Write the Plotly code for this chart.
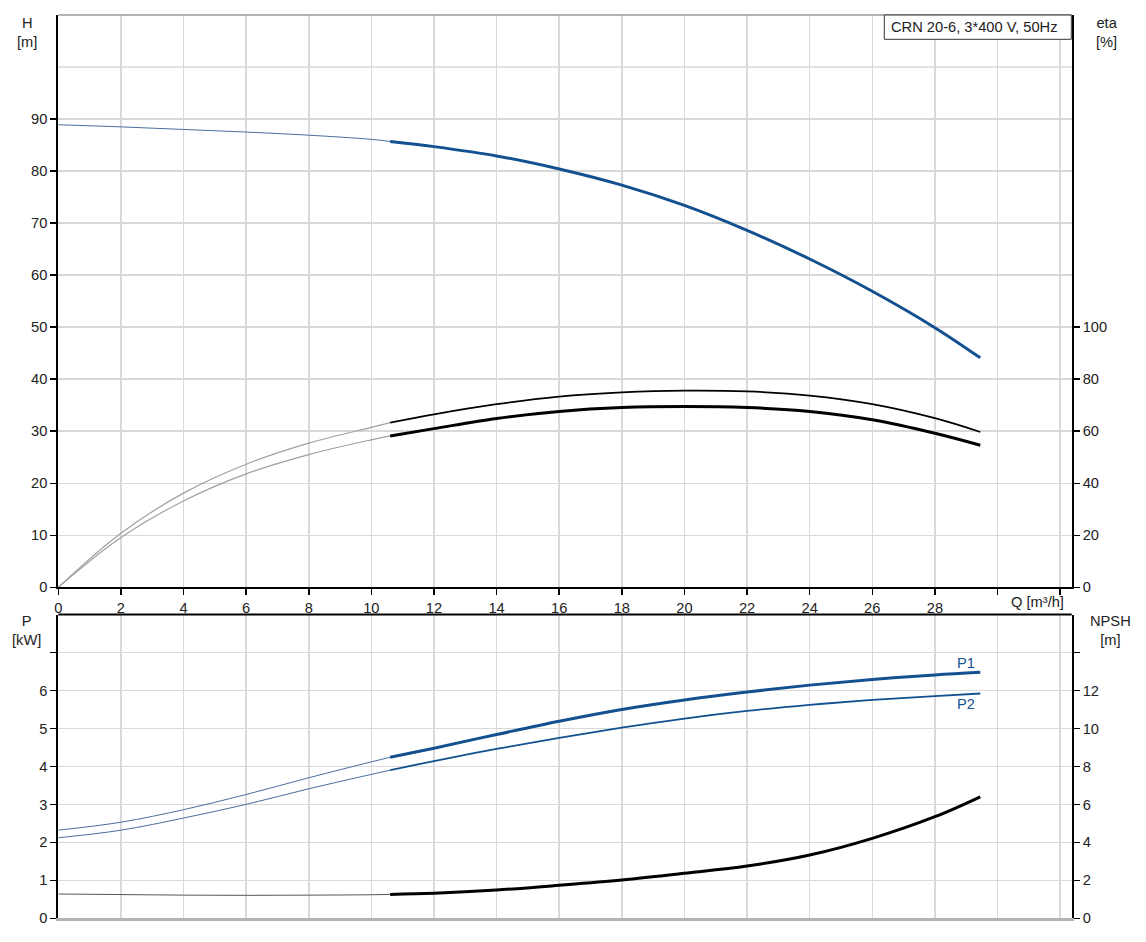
import plotly.graph_objects as go

# ---------------- data ----------------
q_thin = [0, 2, 4, 6, 8, 10, 10.6]
q_main = [10.6, 12, 14, 16, 18, 20, 22, 24, 26, 28, 29.45]

h_thin = [88.9, 88.5, 88.0, 87.5, 86.9, 86.1, 85.7]
h_main = [85.7, 84.7, 82.9, 80.4, 77.3, 73.4, 68.6, 63.1, 56.9, 49.9, 44.1]

eta_a_thin = [0, 20.8, 36.2, 47.3, 55.4, 61.5, 63.3]
eta_a_main = [63.3, 66.5, 70.4, 73.3, 74.9, 75.6, 75.3, 73.7, 70.4, 65.0, 59.7]
eta_b_thin = [0, 19.1, 33.2, 43.6, 51.0, 56.7, 58.2]
eta_b_main = [58.2, 61.0, 64.9, 67.6, 69.1, 69.5, 69.1, 67.6, 64.4, 59.2, 54.6]

p1_thin = [2.32, 2.53, 2.86, 3.26, 3.70, 4.12, 4.24]
p1_main = [4.24, 4.48, 4.84, 5.19, 5.50, 5.75, 5.96, 6.14, 6.29, 6.41, 6.48]
p2_thin = [2.12, 2.32, 2.64, 3.00, 3.41, 3.79, 3.90]
p2_main = [3.90, 4.14, 4.46, 4.75, 5.02, 5.26, 5.46, 5.62, 5.75, 5.85, 5.92]

npsh_thin = [1.28, 1.25, 1.22, 1.21, 1.22, 1.24, 1.26]
npsh_main = [1.26, 1.32, 1.49, 1.74, 2.02, 2.37, 2.75, 3.33, 4.21, 5.35, 6.40]

q_tickvals = [0, 2, 4, 6, 8, 10, 12, 14, 16, 18, 20, 22, 24, 26, 28, 30, 32]
q_ticktext = ["0", "2", "4", "6", "8", "10", "12", "14", "16", "18", "20",
              "22", "24", "26", "28", "", ""]
h_tickvals = [0, 10, 20, 30, 40, 50, 60, 70, 80, 90]
eta_tickvals = [0, 20, 40, 60, 80, 100]
p_tickvals = [0, 1, 2, 3, 4, 5, 6, 7]
p_ticktext = ["0", "1", "2", "3", "4", "5", "6", ""]
npsh_tickvals = [0, 2, 4, 6, 8, 10, 12, 14]
npsh_ticktext = ["0", "2", "4", "6", "8", "10", "12", ""]

title_text = "CRN 20-6, 3*400 V, 50Hz"

# ---------------- style ----------------
W, H = 1146, 942
BLUE = "#13508f"
BLUE_THIN = "#4a6e9a"
GRID = "#d9d9d9"
TXT = "#222222"
FS = 14.67
FONT = dict(family="Liberation Sans, Arial, sans-serif", size=FS, color=TXT)


def px(xp):
    return xp / W


def py(yp):
    return 1 - yp / H


x_dom = [px(58.3), px(1071.7)]
top_dom = [py(587.3), py(15)]
bot_dom = [py(918.3), py(614.5)]
Q_RANGE = [0, 32.37]

fig = go.Figure()

# top: H
fig.add_trace(go.Scatter(x=q_thin, y=h_thin, mode="lines", xaxis="x", yaxis="y",
                         line=dict(color=BLUE_THIN, width=1, shape="spline")))
fig.add_trace(go.Scatter(x=q_main, y=h_main, mode="lines", xaxis="x", yaxis="y",
                         line=dict(color=BLUE, width=3, shape="spline")))
# top: eta
fig.add_trace(go.Scatter(x=q_thin, y=eta_a_thin, mode="lines", xaxis="x", yaxis="y2",
                         line=dict(color="#a0a0a0", width=1.2, shape="spline")))
fig.add_trace(go.Scatter(x=q_main, y=eta_a_main, mode="lines", xaxis="x", yaxis="y2",
                         line=dict(color="black", width=1.8, shape="spline")))
fig.add_trace(go.Scatter(x=q_thin, y=eta_b_thin, mode="lines", xaxis="x", yaxis="y2",
                         line=dict(color="#a0a0a0", width=1.2, shape="spline")))
fig.add_trace(go.Scatter(x=q_main, y=eta_b_main, mode="lines", xaxis="x", yaxis="y2",
                         line=dict(color="black", width=3, shape="spline")))
# bottom: P1, P2
fig.add_trace(go.Scatter(x=q_thin, y=p1_thin, mode="lines", xaxis="x3", yaxis="y3",
                         line=dict(color=BLUE_THIN, width=1, shape="spline")))
fig.add_trace(go.Scatter(x=q_main, y=p1_main, mode="lines", xaxis="x3", yaxis="y3",
                         line=dict(color=BLUE, width=3, shape="spline")))
fig.add_trace(go.Scatter(x=q_thin, y=p2_thin, mode="lines", xaxis="x3", yaxis="y3",
                         line=dict(color=BLUE_THIN, width=1, shape="spline")))
fig.add_trace(go.Scatter(x=q_main, y=p2_main, mode="lines", xaxis="x3", yaxis="y3",
                         line=dict(color=BLUE, width=1.8, shape="spline")))
# bottom: NPSH
fig.add_trace(go.Scatter(x=q_thin, y=npsh_thin, mode="lines", xaxis="x3", yaxis="y4",
                         line=dict(color="#555555", width=1, shape="spline")))
fig.add_trace(go.Scatter(x=q_main, y=npsh_main, mode="lines", xaxis="x3", yaxis="y4",
                         line=dict(color="black", width=3, shape="spline")))

common_y = dict(ticks="outside", ticklen=6, tickwidth=1.5, tickcolor="black",
                showline=True, linecolor="black", linewidth=2, zeroline=False,
                tickfont=FONT, fixedrange=True, automargin=False)

fig.update_layout(
    width=W, height=H, autosize=False, margin=dict(l=0, r=0, t=0, b=0, pad=0),
    paper_bgcolor="white", plot_bgcolor="white", showlegend=False,
    font=FONT,
    xaxis=dict(domain=x_dom, anchor="y", range=Q_RANGE, tickmode="array",
               tickvals=q_tickvals, ticktext=q_ticktext, ticks="outside", ticklen=6,
               tickwidth=1.5, tickcolor="black", showline=True, linecolor="black",
               linewidth=2, showgrid=True, gridcolor=GRID, gridwidth=1.5,
               zeroline=False, tickfont=FONT, automargin=False, fixedrange=True),
    yaxis=dict(domain=top_dom, anchor="x", range=[0, 110], tickmode="array",
               tickvals=h_tickvals, showgrid=True, gridcolor=GRID, gridwidth=1.5,
               **common_y),
    yaxis2=dict(overlaying="y", side="right", anchor="x", range=[0, 220],
                tickmode="array", tickvals=eta_tickvals, showgrid=False, **common_y),
    xaxis3=dict(domain=x_dom, anchor="y3", range=Q_RANGE, tickmode="array",
                tickvals=q_tickvals, showticklabels=False, ticks="",
                showline=True, linecolor="#b4b4b4", linewidth=2.5,
                showgrid=True, gridcolor=GRID, gridwidth=1.5, zeroline=False,
                automargin=False, fixedrange=True),
    yaxis3=dict(domain=bot_dom, anchor="x3", range=[0, 8], tickmode="array",
                tickvals=p_tickvals, ticktext=p_ticktext, showgrid=True,
                gridcolor=GRID, gridwidth=1.5, **common_y),
    yaxis4=dict(overlaying="y3", side="right", anchor="x3", range=[0, 16],
                tickmode="array", tickvals=npsh_tickvals, ticktext=npsh_ticktext,
                showgrid=False, **common_y),
)

shapes = [
    # grid line at H=100 (no tick)
    dict(type="line", xref="x domain", yref="y", x0=0, x1=1, y0=100, y1=100,
         line=dict(color=GRID, width=1.5), layer="below"),
    # top border of upper plot
    dict(type="line", xref="x domain", yref="y domain", x0=0, x1=1, y0=1, y1=1,
         line=dict(color="#9a9a9a", width=1.5)),
    # top border of lower plot
    dict(type="line", xref="x3 domain", yref="y3 domain", x0=0, x1=1, y0=1, y1=1,
         line=dict(color="black", width=2)),
    # title box
    dict(type="rect", xref="paper", yref="paper", x0=px(884.3), x1=px(1071.3),
         y0=py(39.3), y1=py(15), line=dict(color="#333333", width=1),
         fillcolor="white"),
]

annotations = [
    dict(text=title_text, xref="paper", yref="paper", x=px(889), y=py(27),
         xanchor="left", yanchor="middle", showarrow=False, font=FONT),
    dict(text="H<br>[m]", xref="paper", yref="paper", x=px(26.7), y=py(32.5),
         xanchor="center", yanchor="middle", showarrow=False, font=FONT),
    dict(text="eta<br>[%]", xref="paper", yref="paper", x=px(1107), y=py(32.5),
         xanchor="center", yanchor="middle", showarrow=False, font=FONT),
    dict(text="P<br>[kW]", xref="paper", yref="paper", x=px(26.7), y=py(630.5),
         xanchor="center", yanchor="middle", showarrow=False, font=FONT),
    dict(text="NPSH<br>[m]", xref="paper", yref="paper", x=px(1110), y=py(630.5),
         xanchor="center", yanchor="middle", showarrow=False, font=FONT),
    dict(text="Q [m³/h]", xref="paper", yref="paper", x=px(1037), y=py(601.5),
         xanchor="center", yanchor="middle", showarrow=False, font=FONT),
    dict(text="P1", xref="x3", yref="y3", x=29.0, y=6.73, xanchor="center",
         yanchor="middle", showarrow=False, font=dict(family=FONT["family"], size=FS, color=BLUE)),
    dict(text="P2", xref="x3", yref="y3", x=29.0, y=5.64, xanchor="center",
         yanchor="middle", showarrow=False, font=dict(family=FONT["family"], size=FS, color=BLUE)),
]

fig.update_layout(shapes=shapes, annotations=annotations)

fig.write_html(
    "out.html",
    config={"displayModeBar": False, "responsive": False, "staticPlot": True},
    post_script="document.documentElement.style.margin='0';"
                "document.body.style.margin='0';document.body.style.padding='0';"
                "document.documentElement.style.overflow='hidden';"
                "document.body.style.overflow='hidden';",
)
